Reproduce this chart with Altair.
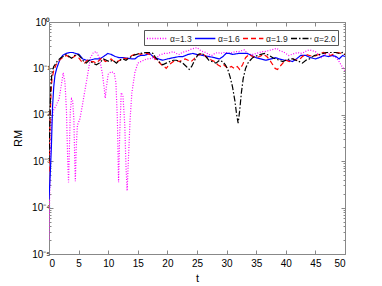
import altair as alt
import pandas as pd

# ---------------- data ----------------
series_names = ["α=1.3", "α=1.6", "α=1.9", "α=2.0"]
series_colors = ["#ff00ff", "#0000ff", "#ff0000", "#000000"]
series_dashes = [[1, 1.6], [1, 0], [5, 3], [6, 2, 1.5, 2]]

t13 = [0, 0.1, 0.25, 0.4, 0.7, 1.2, 1.7, 2.1, 2.4, 2.7, 2.95, 3.15, 3.3, 3.45, 3.6, 3.8,
       4.0, 4.2, 4.35, 4.45, 4.6, 4.8, 5.2, 5.6, 6.0, 6.5, 7.0, 7.5, 8.0, 8.5, 9.0, 9.3,
       9.5, 9.7, 10.0, 10.5, 11.0, 11.3, 11.55, 11.75, 11.95, 12.2, 12.5, 12.8, 13.0, 13.2,
       13.4, 13.7, 14.0, 14.5, 15.0, 15.5, 16.0, 16.5, 17.0, 17.5, 18.0, 18.5, 19.0, 19.5,
       20.0, 20.5, 21.0, 21.5, 22.0, 22.5, 23.0, 23.5, 24.0, 24.5, 25.0, 25.5, 26, 26.5,
       27, 27.5, 28, 28.5, 29, 29.5, 30, 30.5, 31, 31.5, 32, 32.5, 33, 33.5, 34, 34.5, 35,
       35.5, 36, 36.5, 37, 37.5, 38, 38.5, 39, 39.5, 40, 40.5, 41, 41.5, 42, 42.5, 43, 43.5,
       44, 44.5, 45, 45.5, 46, 46.5, 47, 47.5, 48, 48.5, 49, 49.5, 50]
rm13 = [2e-5, 1.5e-4, 1.5e-3, 6e-3, 0.012, 0.016, 0.022, 0.045, 0.08, 0.05, 0.012, 0.0012,
        0.00035, 0.002, 0.012, 0.022, 0.02, 0.008, 0.001, 0.00037, 0.002, 0.006, 0.008,
        0.015, 0.03, 0.07, 0.17, 0.22, 0.23, 0.17, 0.08, 0.04, 0.023, 0.04, 0.075, 0.085,
        0.08, 0.05, 0.008, 0.00035, 0.004, 0.03, 0.025, 0.006, 0.0008, 0.00023, 0.001,
        0.008, 0.03, 0.08, 0.13, 0.14, 0.15, 0.16, 0.16, 0.17, 0.15, 0.19, 0.2, 0.21, 0.21,
        0.22, 0.23, 0.21, 0.2, 0.22, 0.23, 0.24, 0.26, 0.27, 0.28, 0.25, 0.23, 0.22, 0.2,
        0.19, 0.21, 0.22, 0.21, 0.22, 0.22, 0.21, 0.22, 0.23, 0.23, 0.24, 0.25, 0.21, 0.2,
        0.2, 0.21, 0.22, 0.23, 0.23, 0.24, 0.25, 0.26, 0.27, 0.24, 0.23, 0.21, 0.19, 0.2,
        0.21, 0.22, 0.21, 0.22, 0.24, 0.25, 0.24, 0.23, 0.2, 0.17, 0.19, 0.22, 0.2, 0.18,
        0.17, 0.14, 0.11, 0.09]

t16 = [0, 0.2, 0.4, 0.6, 0.8, 1.0, 1.3, 1.8, 2.3, 2.9, 3.5, 4.0, 4.5, 5.1, 5.7, 6.3, 6.9,
       7.7, 8.5, 9.2, 9.95, 10.5, 11.2, 11.9, 12.6, 13.4, 14.0, 14.5, 15.0, 15.5, 16.1, 17.0,
       17.8, 18.5, 19.2, 20, 21, 22, 22.6, 23.5, 24.3, 25, 26, 27, 28, 28.8, 29.4, 29.9,
       30.5, 31, 32, 33, 33.5, 34.4, 35, 35.8, 36.6, 37.5, 38.3, 38.9, 39.8, 40.5, 41.1,
       41.8, 42.5, 43.4, 44.2, 45, 45.6, 46.4, 47.2, 47.9, 48.5, 49, 49.6, 50]
rm16 = [1.5e-4, 5e-4, 2e-3, 0.015, 0.04, 0.07, 0.1, 0.15, 0.19, 0.21, 0.22, 0.22, 0.21,
        0.2, 0.16, 0.15, 0.15, 0.16, 0.16, 0.18, 0.21, 0.2, 0.18, 0.17, 0.17, 0.165, 0.16,
        0.16, 0.18, 0.19, 0.19, 0.21, 0.17, 0.16, 0.15, 0.16, 0.17, 0.18, 0.18, 0.2, 0.21,
        0.2, 0.19, 0.18, 0.17, 0.16, 0.18, 0.21, 0.21, 0.2, 0.21, 0.21, 0.21, 0.185, 0.17,
        0.16, 0.15, 0.16, 0.17, 0.16, 0.15, 0.15, 0.14, 0.16, 0.19, 0.19, 0.17, 0.16, 0.17,
        0.19, 0.18, 0.19, 0.18, 0.16, 0.19, 0.18]

t19 = [0, 0.1, 0.2, 0.35, 0.5, 0.8, 1.2, 1.6, 2.0, 2.5, 3.0, 3.5, 4.0, 4.5, 5.0, 5.5, 6.0,
       6.5, 7.0, 7.5, 8.0, 8.5, 9.0, 9.5, 10.0, 10.5, 11.0, 11.5, 12.0, 12.5, 13.0, 13.5,
       14.0, 14.5, 15.0, 15.5, 16.0, 16.5, 17.0, 17.5, 18.0, 18.5, 19.0, 19.5, 19.8, 20.3,
       21.0, 21.5, 22.0, 22.5, 23.0, 23.5, 24.0, 24.5, 25.0, 25.5, 26.0, 26.5, 27.0, 27.5,
       28.0, 28.5, 29.0, 29.5, 30.2, 30.8, 31.3, 31.8, 32.2, 32.7, 33.2, 33.8, 34.4, 35.0,
       35.6, 36.2, 36.8, 37.3, 37.8, 38.2, 38.6, 39.0, 39.5, 40.0, 40.6, 41.2, 41.8, 42.4,
       42.8, 43.4, 44.0, 44.6, 45.2, 45.8, 46.4, 47.0, 47.6, 48.2, 48.8, 49.4, 50]
rm19 = [6e-4, 0.003, 0.01, 0.03, 0.06, 0.09, 0.12, 0.14, 0.16, 0.18, 0.19, 0.17, 0.17, 0.19,
        0.17, 0.14, 0.13, 0.15, 0.14, 0.14, 0.13, 0.15, 0.17, 0.14, 0.15, 0.16, 0.14, 0.14,
        0.15, 0.17, 0.16, 0.17, 0.19, 0.2, 0.21, 0.2, 0.21, 0.21, 0.2, 0.19, 0.16, 0.14,
        0.12, 0.11, 0.1, 0.12, 0.14, 0.15, 0.14, 0.15, 0.16, 0.15, 0.14, 0.16, 0.19, 0.2,
        0.21, 0.18, 0.16, 0.15, 0.14, 0.12, 0.11, 0.12, 0.1, 0.11, 0.1, 0.11, 0.095, 0.12,
        0.17, 0.2, 0.18, 0.17, 0.18, 0.2, 0.18, 0.15, 0.12, 0.1, 0.095, 0.11, 0.13, 0.15,
        0.14, 0.16, 0.15, 0.16, 0.18, 0.2, 0.19, 0.18, 0.19, 0.21, 0.22, 0.2, 0.19, 0.21,
        0.22, 0.21, 0.2]

t20 = [0, 0.1, 0.2, 0.3, 0.5, 0.8, 1.0, 1.5, 2.0, 2.4, 2.9, 3.4, 3.8, 4.3, 4.9, 5.4, 5.9,
       6.3, 6.8, 7.4, 8.0, 8.5, 9.2, 9.7, 10.2, 10.8, 11.4, 11.9, 12.5, 13.0, 13.6, 14.2,
       14.8, 15.3, 16.4, 17.0, 17.6, 18.0, 18.4, 18.8, 19.2, 19.8, 20.4, 21.0, 21.5, 22.1,
       22.6, 23.2, 23.7, 24.1, 24.6, 25.2, 25.7, 26.1, 26.5, 27.0, 27.6, 28.2, 28.8, 29.3,
       29.8, 30.2, 30.6, 31.0, 31.4, 31.7, 31.95, 32.2, 32.5, 32.8, 33.2, 33.6, 34.0, 34.4,
       35.2, 35.8, 36.4, 37.2, 37.8, 38.3, 38.9, 39.5, 40.0, 40.6, 41.2, 41.7, 42.3, 42.8,
       43.4, 44.0, 44.8, 45.7, 46.3, 46.8, 47.5, 48.0, 48.5, 49.0, 49.6, 50]
rm20 = [1e-3, 0.004, 0.015, 0.04, 0.08, 0.11, 0.12, 0.15, 0.17, 0.18, 0.2, 0.18, 0.165,
        0.19, 0.2, 0.17, 0.14, 0.13, 0.15, 0.13, 0.12, 0.13, 0.16, 0.15, 0.14, 0.15, 0.13,
        0.15, 0.16, 0.15, 0.17, 0.19, 0.2, 0.21, 0.22, 0.22, 0.21, 0.17, 0.15, 0.13, 0.12,
        0.13, 0.14, 0.15, 0.15, 0.14, 0.13, 0.11, 0.095, 0.11, 0.15, 0.2, 0.21, 0.2, 0.18,
        0.15, 0.14, 0.13, 0.15, 0.14, 0.12, 0.095, 0.065, 0.04, 0.02, 0.01, 0.0066, 0.012,
        0.03, 0.06, 0.1, 0.13, 0.15, 0.17, 0.19, 0.2, 0.21, 0.19, 0.17, 0.16, 0.15, 0.14,
        0.15, 0.16, 0.16, 0.15, 0.14, 0.13, 0.15, 0.16, 0.19, 0.2, 0.21, 0.22, 0.22, 0.22,
        0.22, 0.21, 0.22, 0.2]

x_ticks = [0, 5, 10, 15, 20, 25, 30, 35, 40, 45, 50]
y_major = [1e-5, 1e-4, 1e-3, 1e-2, 1e-1, 1]
y_minor = [k * m for m in [1e-5, 1e-4, 1e-3, 1e-2, 1e-1] for k in range(2, 10)]

rows = []
for name, ts, vs in zip(series_names, [t13, t16, t19, t20], [rm13, rm16, rm19, rm20]):
    for t, v in zip(ts, vs):
        rows.append({"t": t, "RM": v, "series": name})
df = pd.DataFrame(rows)

# ---------------- styling ----------------
FONT = "Liberation Sans"
AX = "#262626"
sup = {0: "⁰", -1: "⁻¹", -2: "⁻²", -3: "⁻³", -4: "⁻⁴", -5: "⁻⁵"}
lg = "log(datum.value)/LN10"
label_expr = " : ".join(
    f"abs({lg} - ({e})) < 0.001 ? '10{s}'" for e, s in sup.items()
) + " : ''"
major_test = f"abs({lg} - round({lg})) < 0.001"

xscale = alt.Scale(domain=[0, 50], nice=False, zero=False)
yscale = alt.Scale(type="log", domain=[1e-5, 1], nice=False)
# wide horizontal line symbol in a compact (11px high) legend row
legend = alt.Legend(
    title=None, orient="none", legendX=95, legendY=8, direction="horizontal",
    columns=4, symbolType="M-1,0H2.7", symbolSize=121, symbolStrokeWidth=1.3,
    symbolFillColor="transparent", symbolOffset=0,
    labelFont=FONT, labelFontSize=8.5, labelColor=AX, labelOffset=11, columnPadding=0,
    strokeColor="#555555", fillColor="white", padding=2,
)

lines = alt.Chart(df).mark_line(strokeWidth=1.2, clip=True).encode(
    x=alt.X("t:Q", scale=xscale, title="t",
            axis=alt.Axis(values=x_ticks, grid=False, tickSize={"expr": "-4"},
                          labelPadding=8, titlePadding=4, format="d",
                          titleFontWeight="normal")),
    y=alt.Y("RM:Q", scale=yscale, title="RM",
            axis=alt.Axis(values=y_major + y_minor, grid=False, labelExpr=label_expr,
                          tickSize={"condition": {"test": major_test, "value": -4}, "value": -2},
                          labelPadding=3, titlePadding=8, titleFontWeight="normal")),
    color=alt.Color("series:N", scale=alt.Scale(domain=series_names, range=series_colors),
                    legend=legend),
    strokeDash=alt.StrokeDash("series:N", scale=alt.Scale(domain=series_names, range=series_dashes),
                              legend=legend),
    order=alt.Order("t:Q"),
)

frame = alt.Chart(df).mark_line(opacity=0).encode(
    x=alt.X("t:Q", scale=xscale,
            axis=alt.Axis(orient="top", values=x_ticks, labels=False, title=None, grid=False,
                          tickSize={"expr": "-4"})),
    y=alt.Y("RM:Q", scale=yscale,
            axis=alt.Axis(orient="right", values=y_major + y_minor, labels=False, title=None,
                          grid=False,
                          tickSize={"condition": {"test": major_test, "value": -4}, "value": -2})),
    detail="series:N",
)

chart = alt.layer(lines, frame).resolve_axis(x="independent", y="independent").properties(
    width=296, height=232, autosize="none",
    padding={"left": 41, "top": 14, "right": 29, "bottom": 30},
).configure_axis(
    domainColor=AX, domainWidth=0.8, tickColor=AX, tickWidth=0.8,
    labelFont=FONT, labelFontSize=9, labelColor=AX,
    titleFont=FONT, titleFontSize=10, titleColor=AX, titleFontWeight="normal",
).configure_view(stroke=None).configure(background="white")

chart.save("out.html", embed_options={"renderer": "svg", "actions": False})
